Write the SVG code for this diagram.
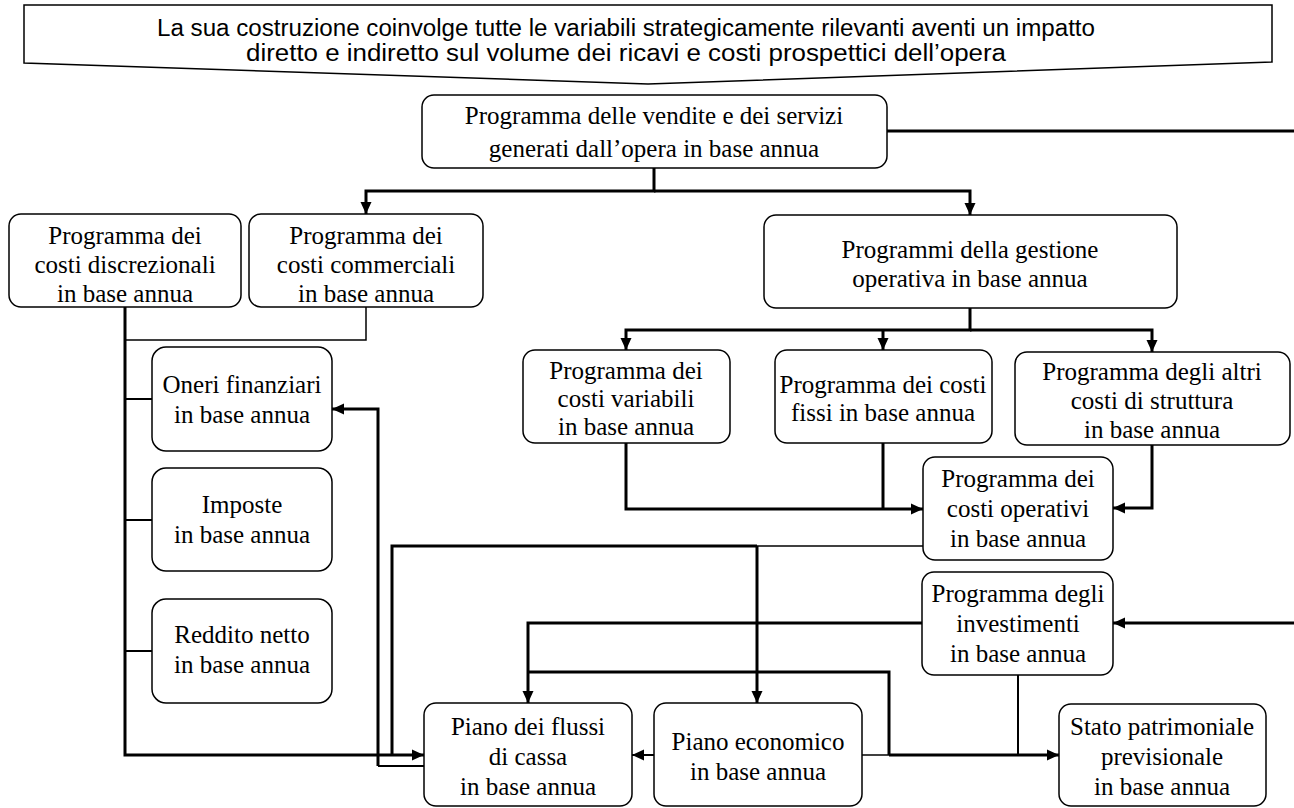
<svg xmlns="http://www.w3.org/2000/svg" width="1294" height="808" viewBox="0 0 1294 808">
  <style>
    .box { fill: #fff; stroke: #000; stroke-width: 1.5; }
    .t { font-family: "Liberation Serif", "Times New Roman", serif; font-size: 25px; fill: #000; text-anchor: middle; }
    .callout-t { font-family: "Liberation Sans", Arial, sans-serif; font-size: 23px; fill: #000; text-anchor: middle; }
    .w3 { fill: none; stroke: #000; stroke-width: 3; }
    .w2 { fill: none; stroke: #000; stroke-width: 2; }
    .w1 { fill: none; stroke: #000; stroke-width: 1.5; }
    .arr { marker-end: url(#head); }
  </style>
  <defs>
    <marker id="head" viewBox="0 0 12 12" markerWidth="12" markerHeight="12" refX="12" refY="6" orient="auto" markerUnits="userSpaceOnUse">
      <path d="M0,0.5 L12,6 L0,11.5 Z" fill="#000"/>
    </marker>
  </defs>
  <rect width="1294" height="808" fill="#fff"/>

  <!-- heading callout -->
  <g id="callout">
    <polygon class="box" points="24,5 1272,5 1272,62 648,84 24,63"/>
    <text class="callout-t" x="626" y="36" textLength="938" lengthAdjust="spacingAndGlyphs">La sua costruzione coinvolge tutte le variabili strategicamente rilevanti aventi un impatto</text>
    <text class="callout-t" x="626" y="61" textLength="760" lengthAdjust="spacingAndGlyphs">diretto e indiretto sul volume dei ricavi e costi prospettici dell’opera</text>
  </g>

  <!-- connectors -->
  <g id="connectors">
    <path class="w3 arr" d="M654,168 V191 H366 V214"/>
    <path class="w3 arr" d="M654,191 H970 V215"/>
    <path class="w3 arr" d="M887,131 H1297 V623 H1113"/>

    <path class="w3 arr" d="M970,308 V330 H626 V350"/>
    <path class="w3 arr" d="M970,330 H1152 V352"/>
    <path class="w3 arr" d="M883,330 V350"/>

    <path class="w3 arr" d="M626,443 V509 H923"/>
    <path class="w3" d="M883,443 V509"/>
    <path class="w3 arr" d="M1152,445 V508 H1113"/>

    <path class="w1" d="M366,307 V340 H125"/>
    <path class="w3 arr" d="M125,307 V755 H424"/>
    <path class="w2" d="M125,399 H152 M125,520 H152 M125,651 H152"/>

    <path class="w2" d="M424,766 H378"/>
    <path class="w3 arr" d="M378,766 V409 H332"/>

    <path class="w1" d="M923,546 H757"/>
    <path class="w3" d="M757,546 H392 V755"/>
    <path class="w3 arr" d="M757,546 V703"/>

    <path class="w3 arr" d="M922,623 H528 V703"/>
    <path class="w3" d="M528,672 H889 V755"/>
    <path class="w1" d="M862,755 H889"/>
    <path class="w3 arr" d="M889,755 H1059"/>
    <path class="w2" d="M1018,675 V755"/>
    <path class="w2 arr" d="M654,755 H632"/>
  </g>

  <!-- nodes -->
  <g id="vendite">
    <rect class="box" x="422" y="95" width="465" height="73" rx="12"/>
    <text class="t" x="654" y="124">Programma delle vendite e dei servizi</text>
    <text class="t" x="654" y="157">generati dall’opera in base annua</text>
  </g>
  <g id="discrezionali">
    <rect class="box" x="9" y="214" width="232" height="93" rx="12"/>
    <text class="t" x="125" y="244">Programma dei</text>
    <text class="t" x="125" y="273">costi discrezionali</text>
    <text class="t" x="125" y="302">in base annua</text>
  </g>
  <g id="commerciali">
    <rect class="box" x="249" y="214" width="234" height="93" rx="12"/>
    <text class="t" x="366" y="244">Programma dei</text>
    <text class="t" x="366" y="273">costi commerciali</text>
    <text class="t" x="366" y="302">in base annua</text>
  </g>
  <g id="gestione">
    <rect class="box" x="764" y="215" width="413" height="93" rx="12"/>
    <text class="t" x="970" y="258">Programmi della gestione</text>
    <text class="t" x="970" y="287">operativa in base annua</text>
  </g>
  <g id="variabili">
    <rect class="box" x="523" y="350" width="207" height="93" rx="12"/>
    <text class="t" x="626" y="379">Programma dei</text>
    <text class="t" x="626" y="407">costi variabili</text>
    <text class="t" x="626" y="435">in base annua</text>
  </g>
  <g id="fissi">
    <rect class="box" x="775" y="350" width="217" height="93" rx="12"/>
    <text class="t" x="883" y="393">Programma dei costi</text>
    <text class="t" x="883" y="421">fissi in base annua</text>
  </g>
  <g id="altri">
    <rect class="box" x="1015" y="352" width="275" height="93" rx="12"/>
    <text class="t" x="1152" y="380">Programma degli altri</text>
    <text class="t" x="1152" y="409">costi di struttura</text>
    <text class="t" x="1152" y="438">in base annua</text>
  </g>
  <g id="operativi">
    <rect class="box" x="923" y="457" width="190" height="103" rx="12"/>
    <text class="t" x="1018" y="487">Programma dei</text>
    <text class="t" x="1018" y="517">costi operativi</text>
    <text class="t" x="1018" y="547">in base annua</text>
  </g>
  <g id="oneri">
    <rect class="box" x="152" y="347" width="180" height="104" rx="14"/>
    <text class="t" x="242" y="393">Oneri finanziari</text>
    <text class="t" x="242" y="423">in base annua</text>
  </g>
  <g id="imposte">
    <rect class="box" x="152" y="468" width="180" height="103" rx="14"/>
    <text class="t" x="242" y="513">Imposte</text>
    <text class="t" x="242" y="543">in base annua</text>
  </g>
  <g id="reddito">
    <rect class="box" x="152" y="599" width="180" height="104" rx="14"/>
    <text class="t" x="242" y="643">Reddito netto</text>
    <text class="t" x="242" y="673">in base annua</text>
  </g>
  <g id="investimenti">
    <rect class="box" x="922" y="572" width="191" height="103" rx="12"/>
    <text class="t" x="1018" y="602">Programma degli</text>
    <text class="t" x="1018" y="632">investimenti</text>
    <text class="t" x="1018" y="662">in base annua</text>
  </g>
  <g id="flussi">
    <rect class="box" x="424" y="703" width="208" height="103" rx="12"/>
    <text class="t" x="528" y="735">Piano dei flussi</text>
    <text class="t" x="528" y="765">di cassa</text>
    <text class="t" x="528" y="795">in base annua</text>
  </g>
  <g id="economico">
    <rect class="box" x="654" y="703" width="208" height="103" rx="12"/>
    <text class="t" x="758" y="750">Piano economico</text>
    <text class="t" x="758" y="780">in base annua</text>
  </g>
  <g id="stato">
    <rect class="box" x="1059" y="704" width="207" height="102" rx="12"/>
    <text class="t" x="1162" y="735">Stato patrimoniale</text>
    <text class="t" x="1162" y="765">previsionale</text>
    <text class="t" x="1162" y="795">in base annua</text>
  </g>
</svg>
